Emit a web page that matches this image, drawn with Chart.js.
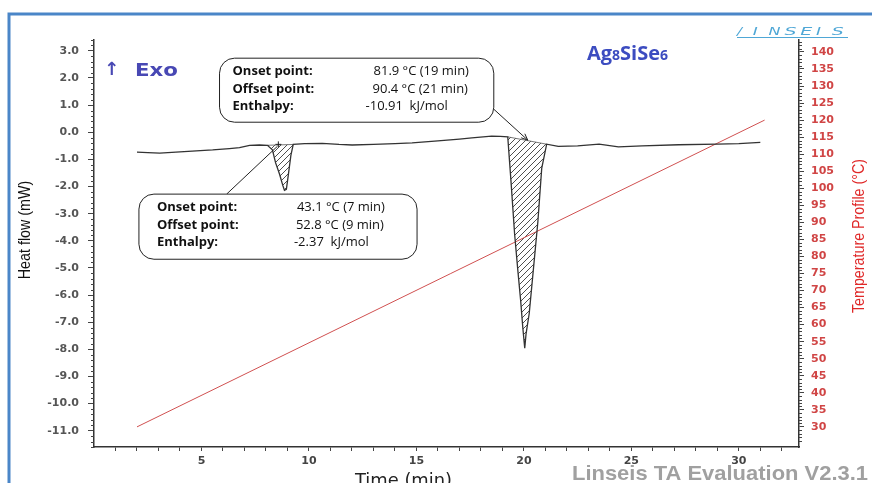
<!DOCTYPE html>
<html>
<head>
<meta charset="utf-8">
<script src="https://cdn.jsdelivr.net/npm/chart.js@4.4.1/dist/chart.umd.min.js"></script>
<style>
  html, body { margin: 0; padding: 0; background: #fff; }
  #wrap { width: 872px; height: 483px; position: relative; }
</style>
</head>
<body>
<div id="wrap"><canvas id="dsc"></canvas></div>
<script>
const timeMin = [2.0, 2.5, 3.06, 4.0, 5.52, 6.3, 6.77, 7.24, 7.7, 8.07,
  8.3, 8.45, 8.63, 8.78, 8.86, 8.95, 9.04, 9.16, 9.27,
  9.8, 10.62, 11.4, 12.01, 13.0, 14.0, 14.8, 16.0, 17.0, 17.58, 18.5, 18.9, 19.25,
  19.4, 19.57, 19.72, 19.85, 19.95, 20.04, 20.1, 20.25, 20.45, 20.65, 20.83, 21.06,
  21.6, 22.5, 23.5, 24.4, 25.5, 27.2, 29.0, 30.0, 31.0];
const heatFlow = [-0.73, -0.75, -0.77, -0.72, -0.65, -0.60, -0.57, -0.48, -0.47, -0.48,
  -0.65, -1.13, -1.54, -1.95, -2.14, -2.10, -1.58, -0.85, -0.45,
  -0.42, -0.41, -0.45, -0.47, -0.45, -0.42, -0.39, -0.32, -0.25, -0.21, -0.14, -0.15, -0.17,
  -1.8, -3.76, -5.1, -6.2, -7.2, -7.96, -7.44, -6.67, -4.99, -3.31, -1.33, -0.44,
  -0.52, -0.50, -0.44, -0.54, -0.50, -0.46, -0.44, -0.42, -0.37];

const tempTime = [2.0, 31.2];
const tempC = [30, 120];

const heatTicks = [3, 2, 1, 0, -1, -2, -3, -4, -5, -6, -7, -8, -9, -10, -11];
const tempTicks = [140, 135, 130, 125, 120, 115, 110, 105, 100, 95, 90, 85, 80, 75, 70, 65, 60, 55, 50, 45, 40, 35, 30];
const timeTicks = [5, 10, 15, 20, 25, 30];

// Index von Onset / Offset in timeMin
const peak1 = [9, 18];
const peak2 = [31, 43];
const rowLabels = ['Onset point:', 'Offset point:', 'Enthalpy:'];
const peak1Info = ['43.1 °C (7 min)', '52.8 °C (9 min)', '-2.37  kJ/mol'];
const peak2Info = ['81.9 °C (19 min)', '90.4 °C (21 min)', '-10.91  kJ/mol'];

const pts = (i0, i1) => timeMin.slice(i0, i1 + 1).map((t, k) => ({ x: t, y: heatFlow[i0 + k] }));
const ends = (p) => [{ x: timeMin[p[0]], y: heatFlow[p[0]] }, { x: timeMin[p[1]], y: heatFlow[p[1]] }];

function hatch() {
  const c = document.createElement('canvas');
  c.width = 6; c.height = 6;
  const g = c.getContext('2d');
  g.strokeStyle = '#3a3a3a';
  g.lineWidth = 0.9;
  g.beginPath();
  g.moveTo(0, 6); g.lineTo(6, 0);
  g.moveTo(-1, 1); g.lineTo(1, -1);
  g.moveTo(5, 7); g.lineTo(7, 5);
  g.stroke();
  return g.createPattern(c, 'repeat');
}
const hatchFill = hatch();

// Kästen in Datenkoordinaten [t links, hf oben, t rechts, hf unten]
const notes = [
  { box: [2.09, -2.28, 15.03, -4.68], lx: 18, vx: [158, 157, 155], rows: [13, 31, 48],
    values: peak1Info, from: [6.17, -2.28], to: [8.53, -0.52], arrow: false },
  { box: [5.84, 2.73, 18.6, 0.37], lx: 13, vx: [154, 153, 146], rows: [13, 31, 48],
    values: peak2Info, from: [18.6, 0.85], to: [20.18, -0.29], arrow: true }
];

function roundBox(ctx, x0, y0, x1, y1, r) {
  ctx.beginPath();
  ctx.moveTo(x0 + r, y0);
  ctx.arcTo(x1, y0, x1, y1, r);
  ctx.arcTo(x1, y1, x0, y1, r);
  ctx.arcTo(x0, y1, x0, y0, r);
  ctx.arcTo(x0, y0, x1, y0, r);
  ctx.closePath();
}

const minorTicks = {
  id: 'minorTicks',
  afterDraw(chart) {
    const { ctx, scales: { y, y2 } } = chart;
    ctx.save();
    ctx.strokeStyle = '#444';
    ctx.lineWidth = 1;
    ctx.beginPath();
    for (let k = -58; k <= 17; k++) {
      if (k % 5 === 0) continue;
      const py = Math.round(y.getPixelForValue(k / 5)) + 0.5;
      ctx.moveTo(y.right - 3, py); ctx.lineTo(y.right, py);
    }
    for (let k = 25; k <= 143; k++) {
      if (k % 5 === 0) continue;
      const py = Math.round(y2.getPixelForValue(k)) + 0.5;
      ctx.moveTo(y2.left, py); ctx.lineTo(y2.left + 3, py);
    }
    ctx.stroke();
    ctx.restore();
  }
};

const notesPlugin = {
  id: 'notes',
  afterDatasetsDraw(chart) {
    const { ctx, scales: { x, y } } = chart;
    ctx.save();
    notes.forEach(n => {
      const x0 = x.getPixelForValue(n.box[0]), y0 = y.getPixelForValue(n.box[1]);
      const x1 = x.getPixelForValue(n.box[2]), y1 = y.getPixelForValue(n.box[3]);
      // Hinweislinie
      const fx = x.getPixelForValue(n.from[0]), fy = y.getPixelForValue(n.from[1]);
      const tx = x.getPixelForValue(n.to[0]), ty = y.getPixelForValue(n.to[1]);
      ctx.strokeStyle = '#222';
      ctx.lineWidth = 1;
      ctx.beginPath();
      ctx.moveTo(fx, fy); ctx.lineTo(tx, ty);
      ctx.stroke();
      if (n.arrow) {
        const a = Math.atan2(ty - fy, tx - fx);
        ctx.beginPath();
        ctx.moveTo(tx, ty);
        ctx.lineTo(tx - 7 * Math.cos(a - 0.4), ty - 7 * Math.sin(a - 0.4));
        ctx.moveTo(tx, ty);
        ctx.lineTo(tx - 7 * Math.cos(a + 0.4), ty - 7 * Math.sin(a + 0.4));
        ctx.stroke();
      } else {
        ctx.beginPath();
        ctx.moveTo(tx + 1, ty - 5); ctx.lineTo(tx + 1, ty + 1);
        ctx.moveTo(tx - 2, ty - 2); ctx.lineTo(tx + 4, ty - 2);
        ctx.stroke();
      }
      roundBox(ctx, x0, y0, x1, y1, 15);
      ctx.fillStyle = '#fff';
      ctx.fill();
      ctx.strokeStyle = '#222';
      ctx.stroke();
      ctx.fillStyle = '#111';
      ctx.textBaseline = 'middle';
      ctx.textAlign = 'left';
      n.rows.forEach((dy, i) => {
        ctx.font = 'bold 13px "Open Sans"';
        ctx.fillText(rowLabels[i], x0 + n.lx, y0 + dy);
        ctx.font = '13px "Open Sans"';
        ctx.fillText(n.values[i], x0 + n.vx[i], y0 + dy);
      });
    });
    ctx.restore();
  }
};

// Text auf feste Breite bringen
function fitText(ctx, s, x, y, w) {
  const m = ctx.measureText(s).width;
  ctx.save();
  ctx.translate(x, y);
  ctx.scale(w / m, 1);
  ctx.fillText(s, 0, 0);
  ctx.restore();
}

const decor = {
  id: 'decor',
  afterDraw(chart) {
    const ctx = chart.ctx;
    ctx.save();
    // blauer Rahmen
    ctx.strokeStyle = '#4a86c8';
    ctx.lineWidth = 3;
    ctx.beginPath();
    ctx.moveTo(9, 483); ctx.lineTo(9, 14); ctx.lineTo(872, 14);
    ctx.stroke();

    // Exo
    ctx.fillStyle = '#4848b4';
    ctx.textBaseline = 'middle';
    ctx.textAlign = 'left';
    ctx.font = 'bold 18px "DejaVu Sans"';
    ctx.fillText('↑', 104, 70);
    fitText(ctx, 'Exo', 135, 71, 43);

    // Probenname
    ctx.fillStyle = '#3c4cc0';
    ctx.textBaseline = 'alphabetic';
    let px = 587;
    [['Ag', 20], ['8', 14], ['SiSe', 20], ['6', 14]].forEach(([s, f]) => {
      ctx.font = 'bold ' + f + 'px "Open Sans"';
      ctx.fillText(s, px, 60);
      px += ctx.measureText(s).width;
    });

    // Logo
    ctx.fillStyle = '#4fa7d6';
    ctx.strokeStyle = '#4fa7d6';
    ctx.font = 'italic 11px "DejaVu Sans"';
    '/INSEIS'.split('').forEach((c, i) => fitText(ctx, c, 737 + i * 15.8, 35, c === 'I' || c === '/' ? 5 : 12));
    ctx.lineWidth = 1;
    ctx.beginPath();
    ctx.moveTo(737, 37.5); ctx.lineTo(848, 37.5);
    ctx.stroke();

    // Achsentitel
    ctx.textAlign = 'center';
    ctx.textBaseline = 'middle';
    ctx.font = '17px "Liberation Sans"';
    ctx.fillStyle = '#111';
    ctx.save();
    ctx.translate(25, 230);
    ctx.rotate(-Math.PI / 2);
    ctx.scale(0.84, 1);
    ctx.fillText('Heat flow (mW)', 0, 0);
    ctx.restore();
    ctx.fillStyle = '#e02828';
    ctx.save();
    ctx.translate(859, 236);
    ctx.rotate(-Math.PI / 2);
    ctx.scale(0.84, 1);
    ctx.fillText('Temperature Profile (°C)', 0, 0);
    ctx.restore();

    ctx.textAlign = 'left';
    ctx.textBaseline = 'alphabetic';
    ctx.fillStyle = '#222';
    ctx.font = '17px "DejaVu Sans"';
    fitText(ctx, 'Time (min)', 355, 486, 97);

    ctx.fillStyle = '#a0a0a0';
    ctx.font = 'bold 21px "Liberation Sans"';
    fitText(ctx, 'Linseis TA Evaluation V2.3.1', 572, 480, 296);
    ctx.restore();
  }
};

new Chart(document.getElementById('dsc'), {
  type: 'line',
  data: {
    datasets: [
      { data: pts(0, timeMin.length - 1), borderColor: '#333', borderWidth: 1.3, pointRadius: 0, yAxisID: 'y' },
      { data: tempTime.map((t, i) => ({ x: t, y: tempC[i] })), borderColor: '#d05050', borderWidth: 1, pointRadius: 0, yAxisID: 'y2' },
      { data: ends(peak1), borderColor: '#555', borderWidth: 0.8, pointRadius: 0, yAxisID: 'y' },
      { data: pts(peak1[0], peak1[1]), borderWidth: 0, pointRadius: 0, yAxisID: 'y', fill: 2, backgroundColor: hatchFill },
      { data: ends(peak2), borderColor: '#555', borderWidth: 0.8, pointRadius: 0, yAxisID: 'y' },
      { data: pts(peak2[0], peak2[1]), borderWidth: 0, pointRadius: 0, yAxisID: 'y', fill: 4, backgroundColor: hatchFill }
    ]
  },
  options: {
    responsive: true,
    maintainAspectRatio: false,
    animation: false,
    layout: { padding: { top: 40, left: 0, right: 0, bottom: 0 } },
    plugins: { legend: { display: false }, tooltip: { enabled: false } },
    elements: { line: { tension: 0 } },
    scales: {
      x: {
        type: 'linear',
        min: 0,
        max: 32.8,
        afterBuildTicks: s => { s.ticks = Array.from({ length: 32 }, (_, i) => ({ value: i + 1 })); },
        afterFit: s => { s.height = 36; },
        ticks: {
          autoSkip: false,
          maxRotation: 0,
          padding: 4,
          color: '#444',
          font: { family: 'DejaVu Sans', size: 11, weight: 'bold' },
          callback: v => (timeTicks.includes(v) ? String(v) : '')
        },
        grid: { drawOnChartArea: false, tickLength: 4, tickColor: '#444' },
        border: { color: '#333', width: 1.5 }
      },
      y: {
        position: 'left',
        min: -11.6,
        max: 3.4,
        afterBuildTicks: s => { s.ticks = heatTicks.map(v => ({ value: v })); },
        afterFit: s => { s.width = 94; },
        ticks: {
          padding: 9,
          color: '#555',
          font: { family: 'DejaVu Sans', size: 11, weight: 'bold' },
          callback: v => v.toFixed(1)
        },
        grid: { drawOnChartArea: false, tickLength: 6, tickColor: '#444' },
        border: { color: '#333', width: 1.5 }
      },
      y2: {
        position: 'right',
        min: 24.1,
        max: 143.5,
        afterBuildTicks: s => { s.ticks = tempTicks.map(v => ({ value: v })); },
        afterFit: s => { s.width = 73; },
        ticks: {
          padding: 7,
          color: '#d04545',
          font: { family: 'DejaVu Sans', size: 11, weight: 'bold' },
          callback: v => String(v)
        },
        grid: { drawOnChartArea: false, tickLength: 5, tickColor: '#444' },
        border: { color: '#333', width: 1.5 }
      }
    }
  },
  plugins: [minorTicks, notesPlugin, decor]
});
</script>
</body>
</html>
